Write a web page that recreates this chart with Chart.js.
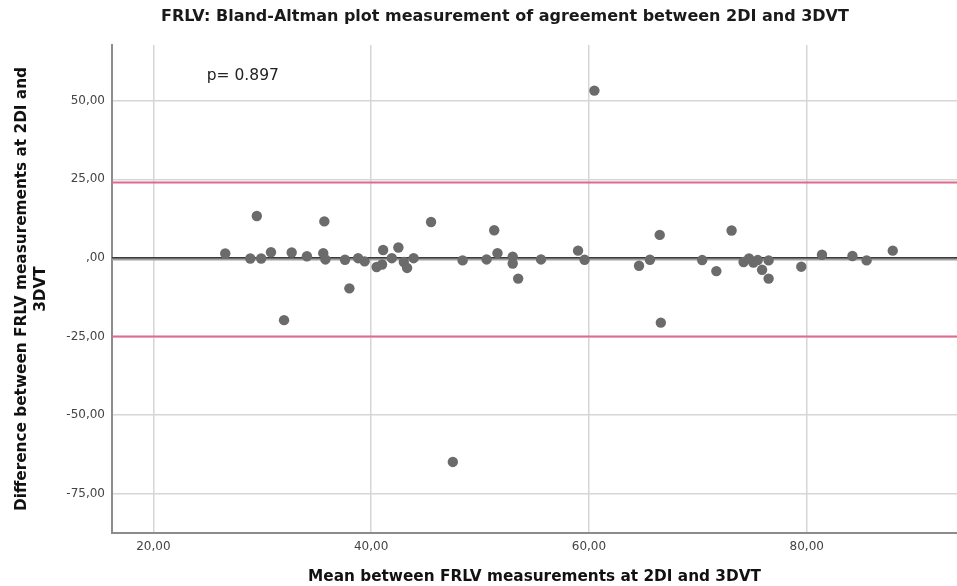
<!DOCTYPE html>
<html>
<head>
<meta charset="utf-8">
<title>FRLV Bland-Altman</title>
<script src="https://cdn.jsdelivr.net/npm/chart.js@4.4.1/dist/chart.umd.min.js"></script>
<style>
  html, body { margin: 0; padding: 0; background: #fff; }
  #wrap { width: 957px; height: 586px; }
</style>
</head>
<body>
<div id="wrap"><canvas id="chart" width="957" height="586"></canvas></div>
<script>
'use strict';

// mean of the two measurements (x) and their difference (y)
let meanVals = [26.6, 29.5, 28.9, 29.9, 30.8, 32.7, 32.0, 34.1, 35.7, 35.6,
  35.8, 37.6, 38.0, 38.8, 39.4, 40.5, 41.0, 41.1, 41.9, 42.5,
  43.0, 43.3, 43.9, 45.5, 47.5, 48.4, 50.6, 51.3, 51.6, 53.0,
  53.0, 53.5, 55.6, 59.0, 59.6, 60.5, 64.6, 65.6, 66.5, 66.6,
  70.4, 71.7, 73.1, 74.2, 74.7, 75.1, 75.5, 75.9, 76.5, 76.5,
  79.5, 81.4, 84.2, 85.5, 87.9];
let diffVals = [1.4, 13.3, -0.2, -0.2, 1.8, 1.7, -19.8, 0.5, 11.6, 1.5,
  -0.5, -0.6, -9.7, -0.1, -1.1, -2.9, -2.1, 2.5, -0.1, 3.3,
  -1.3, -3.2, -0.1, 11.4, -64.9, -0.8, -0.5, 8.8, 1.5, 0.4,
  -1.8, -6.6, -0.5, 2.3, -0.6, 53.2, -2.5, -0.6, 7.3, -20.6,
  -0.7, -4.2, 8.7, -1.3, -0.2, -1.5, -0.7, -3.8, -0.8, -6.6,
  -2.8, 1.0, 0.6, -0.8, 2.3];

// reference lines: limits of agreement, mean difference, zero
let upperLimit = 24.0;
let lowerLimit = -25.0;
let meanDiff = -0.3;
let xRange = [16.2, 93.8];
let yRange = [-87.5, 67.7];

let xTicks = [20, 40, 60, 80];
let yTicks = [-75, -50, -25, 0, 25, 50];

let chartTitle = 'FRLV: Bland-Altman plot measurement of agreement between 2DI and 3DVT';
let pText = 'p= 0.897';
let pPos = { x: 24.9, y: 58 };

let points = [];
for (let i = 0; i < meanVals.length; i++) {
    points.push({ x: meanVals[i], y: diffVals[i] });
}

function flatLine (yVal) {
    return [{ x: xRange[0], y: yVal }, { x: xRange[1], y: yVal }];
}

function fmt (v) {
    if (v === 0) return ',00';
    return v.toFixed(2).replace('.', ',');
}

let fam = '"DejaVu Sans", sans-serif';

// title (centred a bit right of the canvas) and the p value text
let extraText = {
    id: 'extraText',
    afterDraw (chart) {
        let ctx = chart.ctx;
        ctx.save();
        ctx.font = 'bold 16px ' + fam;
        ctx.fillStyle = '#1a1a1a';
        ctx.textAlign = 'center';
        ctx.textBaseline = 'middle';
        ctx.fillText(chartTitle, 505, 17);

        let px = chart.scales.x.getPixelForValue(pPos.x);
        let py = chart.scales.y.getPixelForValue(pPos.y);
        ctx.font = '15.5px ' + fam;
        ctx.fillStyle = '#222';
        ctx.textAlign = 'left';
        ctx.fillText(pText, px, py);
        ctx.restore();
    }
};

let tickFont = { family: fam, size: 12 };
let axisTitleFont = { family: fam, size: 15.3, weight: 'bold', lineHeight: 1.2 };

let ctx = document.getElementById('chart').getContext('2d');
let chart = new Chart(ctx, {
    type: 'scatter',
    data: {
        datasets: [
            {
                label: 'points',
                data: points,
                backgroundColor: '#6b6b6b',
                borderWidth: 0,
                pointRadius: 5.2,
                pointHoverRadius: 5.2
            },
            {
                type: 'line', label: 'zero', data: flatLine(0),
                borderColor: '#3a3a3a', borderWidth: 1.5, pointRadius: 0
            },
            {
                type: 'line', label: 'mean', data: flatLine(meanDiff),
                borderColor: '#a0a0a0', borderWidth: 3.5, pointRadius: 0
            },
            {
                type: 'line', label: 'upper', data: flatLine(upperLimit),
                borderColor: '#de6a8c', borderWidth: 2, pointRadius: 0
            },
            {
                type: 'line', label: 'lower', data: flatLine(lowerLimit),
                borderColor: '#de6a8c', borderWidth: 2, pointRadius: 0
            }
        ]
    },
    options: {
        responsive: false,
        animation: false,
        layout: { autoPadding: false, padding: { left: 0, right: 0, top: 45, bottom: 0 } },
        plugins: {
            legend: { display: false },
            tooltip: { enabled: false },
            title: { display: false }
        },
        scales: {
            x: {
                type: 'linear',
                min: xRange[0],
                max: xRange[1],
                afterBuildTicks (axis) { axis.ticks = xTicks.map(v => ({ value: v })); },
                afterFit (axis) { axis.height = 53; },
                ticks: { callback: fmt, color: '#444', font: tickFont, padding: 7, maxRotation: 0 },
                grid: { color: '#d6d6d6', lineWidth: 1.5, drawTicks: false },
                border: { color: '#8c8c8c', width: 2 },
                title: {
                    display: true,
                    text: 'Mean between FRLV measurements at 2DI and 3DVT',
                    color: '#111',
                    font: axisTitleFont,
                    padding: { top: 0, bottom: 0 }
                }
            },
            y: {
                type: 'linear',
                min: yRange[0],
                max: yRange[1],
                afterBuildTicks (axis) { axis.ticks = yTicks.map(v => ({ value: v })); },
                afterFit (axis) { axis.width = 112; },
                ticks: { callback: fmt, color: '#444', font: tickFont, padding: 7 },
                grid: { color: '#d6d6d6', lineWidth: 1.5, drawTicks: false },
                border: { color: '#8c8c8c', width: 2 },
                title: {
                    display: true,
                    text: ['Difference between FRLV measurements at 2DI and', '3DVT'],
                    color: '#111',
                    font: axisTitleFont,
                    padding: { top: 13, bottom: 0 }
                }
            }
        }
    },
    plugins: [extraText]
});
</script>
</body>
</html>
